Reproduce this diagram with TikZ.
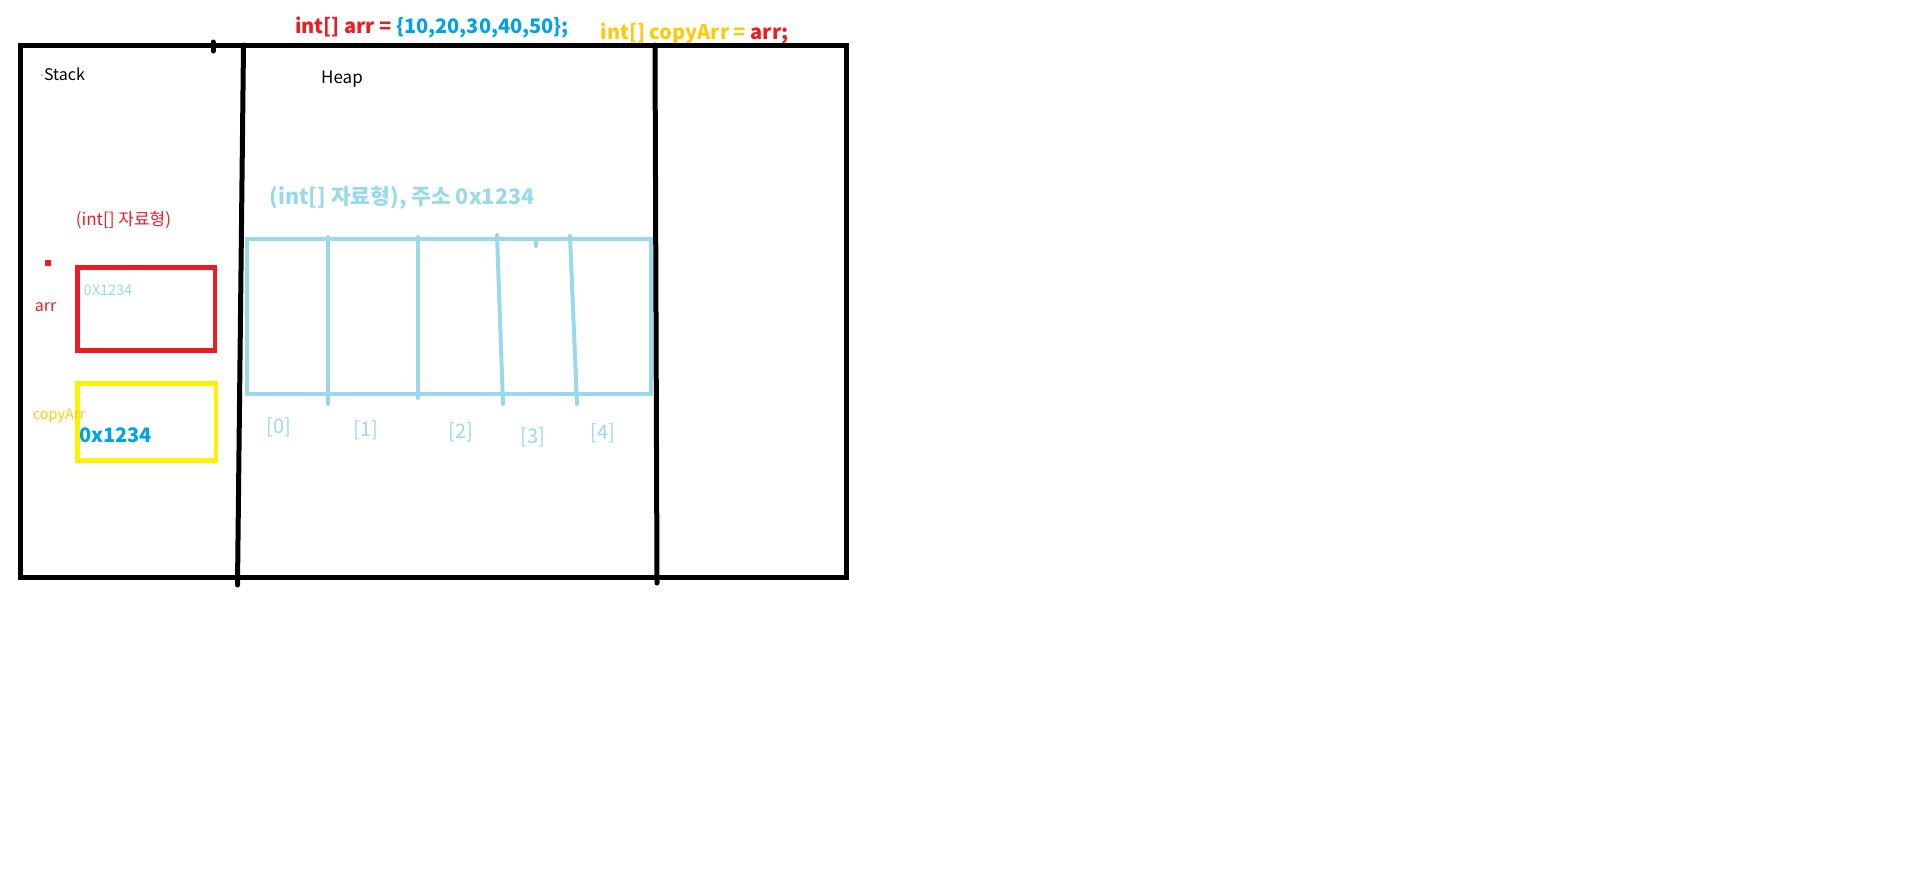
\documentclass[tikz,border=0pt]{standalone}
\usepackage{fontspec}
\setmainfont{Noto Sans CJK KR}

\definecolor{paintred}{HTML}{ED1C24}
\definecolor{paintyellow}{HTML}{FFF200}
\definecolor{paintgold}{HTML}{FFC90E}
\definecolor{paintsky}{HTML}{99D9EA}
\definecolor{paintblue}{HTML}{00A2E8}

\tikzset{
  wall/.style={line width=5pt, line cap=round},
  slot/.style={draw=paintsky, line width=4pt, line cap=round},
  txt/.style={inner sep=0pt, font=\fontsize{#1}{#1}\selectfont},
  txt/.default=16,
  code/.style={inner sep=0pt, font=\fontsize{20}{20}\selectfont\bfseries}
}

\begin{document}
\begin{tikzpicture}[x=1pt,y=-1pt]

\useasboundingbox (0,0) rectangle (1914,871);

\node[code] (decl) at (432,27) {\textcolor{paintred}{int[] arr =} \textcolor{paintblue}{\{10,20,30,40,50\};}};
\node[code] (copy) at (694.5,33) {\textcolor{paintgold}{int[] copyArr =} \textcolor{paintred}{arr;}};

\draw[wall] (20.5,45) rectangle (846.5,577.5);
\draw[wall] (243.5,45) -- (237.5,585);
\draw[wall] (655,45) -- (657,583);
\draw[wall] (213,42) -- (213,51);

\fill (42,75) circle (0.7);
\node[txt] (stack) at (64.5,74) {Stack};
\node[txt=17] (heap) at (342,79) {Heap};

% stack side
\node[txt=17, text=paintred] (arrtype) at (123.5,220) {(int[] 자료형)};
\fill[paintred] (45,260) rectangle (51,266);
\node[txt, text=paintred] (arrname) at (45.5,307) {arr};
\draw[paintred, line width=4.5pt] (77.5,267.5) rectangle (215,350.5);
\node[txt=14.5, text=paintsky] (arrval) at (108,290) {0X1234};

\draw[paintyellow, line width=4.5pt] (77.5,383.5) rectangle (216,460.5);
\node[txt=14.5, text=paintgold] (copyname) at (59,416) {copyArr};
\node[txt=20, text=paintblue, font=\fontsize{20}{20}\selectfont\bfseries] (copyval) at (115.5,435) {0x1234};

% heap side
\node[txt=21, text=paintsky, font=\fontsize{21.5}{21.5}\selectfont\bfseries] (heaptype) at (402,198) {(int[] 자료형), 주소 0x1234};
\draw[slot] (247,239) rectangle (651,394);
\draw[slot] (328,237) -- (328,404);
\draw[slot] (418,237) -- (418,398);
\draw[slot] (497,235) -- (503,404);
\draw[slot] (570,236) -- (577,404);
\draw[slot] (536,239) -- (536,246);

\foreach \i/\x/\y in {0/279/427, 1/366/430, 2/461/432, 3/533/437, 4/603/433}
  \node[txt=20, text=paintsky] (idx\i) at (\x,\y) {[\i]};

\end{tikzpicture}
\end{document}
